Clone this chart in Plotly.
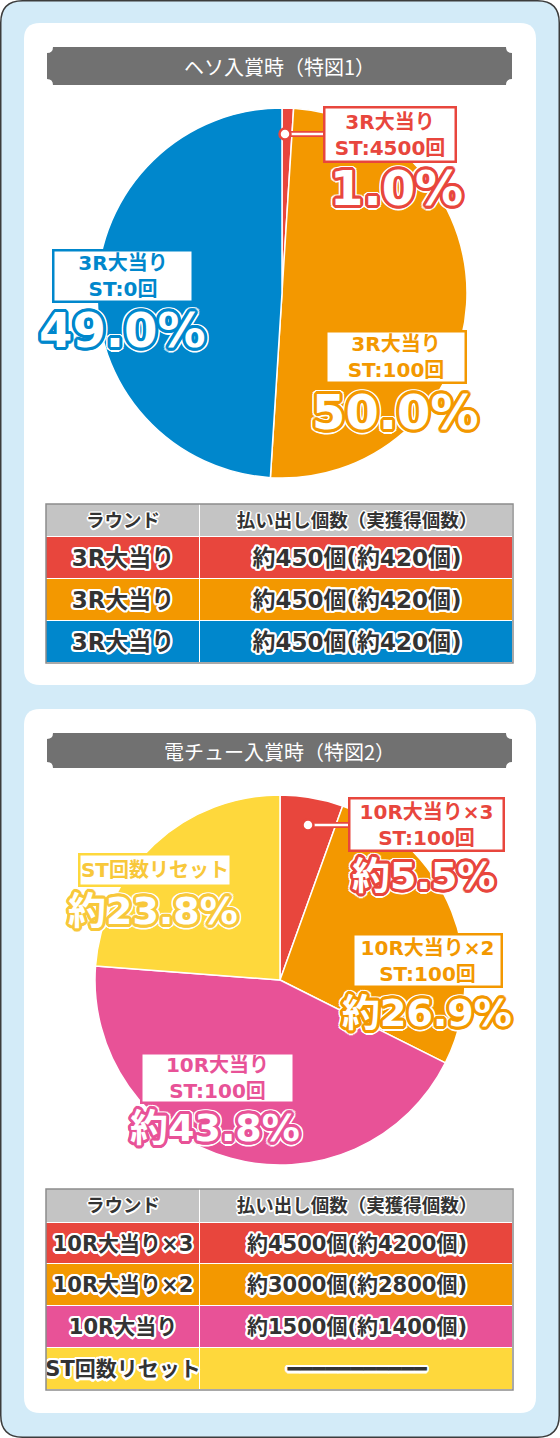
"""
Pie + table infographic (ヘソ / 電チュー) rebuilt with Plotly.
"""

import math

import plotly.graph_objects as go

# ---- data -------------------------------------------------------------
pie1_title = "ヘソ入賞時（特図1）"
pie1_rounds = ["3R大当り", "3R大当り", "3R大当り"]
pie1_st = ["ST:4500回", "ST:100回", "ST:0回"]
pie1_values = [1.0, 50.0, 49.0]

pie2_title = "電チュー入賞時（特図2）"
pie2_rounds = ["10R大当り×3", "10R大当り×2", "10R大当り", "ST回数リセット"]
pie2_st = ["ST:100回", "ST:100回", "ST:100回", ""]
pie2_values = [5.5, 26.9, 43.8, 23.8]

table_header = ["ラウンド", "払い出し個数（実獲得個数）"]
table1_rounds = ["3R大当り", "3R大当り", "3R大当り"]
table1_payout = ["約450個(約420個)", "約450個(約420個)", "約450個(約420個)"]
table2_rounds = ["10R大当り×3", "10R大当り×2", "10R大当り", "ST回数リセット"]
table2_payout = ["約4500個(約4200個)", "約3000個(約2800個)", "約1500個(約1400個)", "━━━━━━━━━━━"]

# ---- styles / layout --------------------------------------------------
W, H = 560, 1438
RED, ORANGE, BLUE, PINK, YELLOW = "#e8463d", "#f39800", "#0087cc", "#e85297", "#fed83c"
HEAD_GRAY = "#c4c4c4"
pie1_colors = [RED, ORANGE, BLUE]
pie2_colors = [RED, ORANGE, PINK, YELLOW]
pie2_text_colors = [RED, ORANGE, PINK, "#f8c83a"]
TXT = "#333333"
FONT_NUM = "DejaVu Sans, Noto Sans CJK JP"
FONT_JP = "Noto Sans CJK JP"

# label boxes (cx, cy, w, h) and percentage text centres, in pixels
pie1_box = [(390, 134.5, 134, 57), (396, 357, 142, 54), (123, 276, 142, 54)]
pie1_pct = [(396, 188), (395, 412), (122, 330)]
pie2_box = [(426.5, 824.5, 157, 55), (427.5, 960.5, 151, 55), (217.5, 1078, 155, 52), (155, 870, 154, 34)]
pie2_pct = [(423, 876), (427, 1013), (215, 1128), (153, 911)]

# table grid edges, in pixels
col_edges = [46, 200, 513]
table1_rows = [504, 537, 579, 621, 663]
table2_rows = [1189, 1223, 1264, 1306, 1348, 1390]


def fx(x):
    return x / W


def fy(y):
    return 1 - y / H


def make_path(cmds):
    out = []
    for c in cmds:
        op, pts = c[0], c[1:]
        coords = []
        for i in range(0, len(pts), 2):
            coords.append(f"{fx(pts[i]):.5f},{fy(pts[i + 1]):.5f}")
        out.append(op + " ".join(coords))
    return " ".join(out)


def rounded_rect(x0, y0, x1, y1, r):
    return make_path([
        ("M", x0 + r, y0), ("L", x1 - r, y0), ("Q", x1, y0, x1, y0 + r),
        ("L", x1, y1 - r), ("Q", x1, y1, x1 - r, y1), ("L", x0 + r, y1),
        ("Q", x0, y1, x0, y1 - r), ("L", x0, y0 + r), ("Q", x0, y0, x0 + r, y0), ("Z",),
    ])


def notched_rect(x0, y0, x1, y1, r):
    return make_path([
        ("M", x0 + r, y0), ("L", x1 - r, y0), ("Q", x1 - r, y0 + r, x1, y0 + r),
        ("L", x1, y1 - r), ("Q", x1 - r, y1 - r, x1 - r, y1), ("L", x0 + r, y1),
        ("Q", x0 + r, y1 - r, x0, y1 - r), ("L", x0, y0 + r), ("Q", x0 + r, y0 + r, x0 + r, y0), ("Z",),
    ])


def outline(color, radii, n=16):
    parts = []
    for r in radii:
        for k in range(n):
            a = 2 * math.pi * k / n
            parts.append(f"{r * math.cos(a):.1f}px {r * math.sin(a):.1f}px 0 {color}")
    return ", ".join(parts)


def step_scale(colors):
    n = len(colors)
    cs = []
    for i, c in enumerate(colors):
        cs += [[i / n, c], [(i + 1) / n, c]]
    return cs


fig = go.Figure()

# pies
for vals, cols, (x0, x1, y0, y1) in [
    (pie1_values, pie1_colors, (97, 467, 108, 478)),
    (pie2_values, pie2_colors, (95, 465, 795, 1165)),
]:
    fig.add_trace(go.Pie(
        values=vals,
        marker=dict(colors=cols, line=dict(color="white", width=1.5)),
        sort=False,
        direction="clockwise",
        rotation=0,
        textinfo="none",
        hoverinfo="skip",
        showlegend=False,
        domain=dict(x=[fx(x0), fx(x1)], y=[fy(y1), fy(y0)]),
    ))

# tables, drawn as heatmaps on a pixel-sized hidden axis so text sits centred
for rounds, payout, colors, rows, fsize in [
    (table1_rounds, table1_payout, [RED, ORANGE, BLUE], table1_rows, 23),
    (table2_rounds, table2_payout, [RED, ORANGE, PINK, YELLOW], table2_rows, 21),
]:
    fig.add_trace(go.Heatmap(
        x=col_edges, y=rows[:2], z=[[0, 0]],
        zmin=-0.5, zmax=0.5, colorscale=step_scale([HEAD_GRAY]), showscale=False,
        text=[table_header], texttemplate="<b>%{text}</b>",
        textfont=dict(family=FONT_JP, size=18.5, color=TXT, shadow=outline("white", [1.5], 12)),
        xgap=1, ygap=1, hoverinfo="skip",
    ))
    fig.add_trace(go.Heatmap(
        x=col_edges, y=rows[1:], z=[[i, i] for i in range(len(rounds))],
        zmin=-0.5, zmax=len(colors) - 0.5, colorscale=step_scale(colors), showscale=False,
        text=[[r, p] for r, p in zip(rounds, payout)], texttemplate="<b>%{text}</b>",
        textfont=dict(family=FONT_NUM, size=fsize, color=TXT, shadow=outline("white", [1.2, 2.2], 12)),
        xgap=1, ygap=1, hoverinfo="skip",
    ))

shapes = [
    dict(type="path", path=rounded_rect(0.75, 0.75, W - 0.75, H - 0.75, 22),
         fillcolor="#d3ebf8", line=dict(color="#3c3c3c", width=1.5), layer="below"),
    dict(type="path", path=rounded_rect(24, 23, 536, 685, 16),
         fillcolor="white", line=dict(width=0), layer="below"),
    dict(type="path", path=rounded_rect(24, 709, 536, 1413, 16),
         fillcolor="white", line=dict(width=0), layer="below"),
    dict(type="path", path=notched_rect(47, 47, 512, 85, 6),
         fillcolor="#717171", line=dict(width=0), layer="below"),
    dict(type="path", path=notched_rect(47, 733, 512, 768, 6),
         fillcolor="#717171", line=dict(width=0), layer="below"),
]
for rows in (table1_rows, table2_rows):
    shapes.append(dict(type="rect",
                       x0=fx(col_edges[0]), x1=fx(col_edges[-1]), y0=fy(rows[-1]), y1=fy(rows[0]),
                       line=dict(color="#8c8c8c", width=1.5), layer="above"))

# leader lines for the small red slices
for (dx, dy, bx) in [(285, 134, 323), (308, 825, 348)]:
    shapes.append(dict(type="line", x0=fx(dx), x1=fx(bx), y0=fy(dy), y1=fy(dy),
                       line=dict(color=RED, width=6), layer="above"))
    shapes.append(dict(type="line", x0=fx(dx), x1=fx(bx), y0=fy(dy), y1=fy(dy),
                       line=dict(color="white", width=2.5), layer="above"))
    shapes.append(dict(type="circle",
                       x0=fx(dx - 5.5), x1=fx(dx + 5.5), y0=fy(dy + 5.5), y1=fy(dy - 5.5),
                       fillcolor="white", line=dict(color=RED, width=2.5), layer="above"))

for s in shapes:
    s["xref"] = "paper"
    s["yref"] = "paper"

annotations = []
for title, cy in [(pie1_title, 66), (pie2_title, 751)]:
    annotations.append(dict(
        x=fx(279.5), y=fy(cy), xref="paper", yref="paper", text=title, showarrow=False,
        xanchor="center", yanchor="middle",
        font=dict(family=FONT_JP, size=20, color="white"),
    ))


def add_labels(rounds, sts, values, colors, text_colors, boxes, pcts, size, prefix):
    for rnd, st, v, col, tcol, (cx, cy, bw, bh), (px, py) in zip(
            rounds, sts, values, colors, text_colors, boxes, pcts):
        text = rnd if not st else f"{rnd}<br>{st}"
        annotations.append(dict(
            x=fx(cx), y=fy(cy), xref="paper", yref="paper", text=f"<b>{text}</b>",
            showarrow=False, xanchor="center", yanchor="middle",
            bgcolor="white", bordercolor=col, borderwidth=2.5, borderpad=0,
            width=bw - 5, height=bh - 5, align="center", valign="middle",
            font=dict(family=FONT_NUM, size=20, color=tcol),
        ))
        annotations.append(dict(
            x=fx(px), y=fy(py), xref="paper", yref="paper",
            text=f"<b>{prefix}{v:.1f}%</b>",
            showarrow=False, xanchor="center", yanchor="middle",
            font=dict(family=FONT_NUM, size=size, color="white",
                      shadow=outline(tcol, [1.5, 3]) + ", " + outline("white", [4.5])),
        ))


add_labels(pie1_rounds, pie1_st, pie1_values, pie1_colors, pie1_colors, pie1_box, pie1_pct, 48, "")
add_labels(pie2_rounds, pie2_st, pie2_values, pie2_colors, pie2_text_colors, pie2_box, pie2_pct, 38, "約")

fig.update_layout(
    width=W,
    height=H,
    margin=dict(l=0, r=0, t=0, b=0),
    paper_bgcolor="white",
    plot_bgcolor="rgba(0,0,0,0)",
    xaxis=dict(range=[0, W], visible=False, fixedrange=True),
    yaxis=dict(range=[H, 0], visible=False, fixedrange=True),
    shapes=shapes,
    annotations=annotations,
)

fig.write_html(
    "out.html",
    config={"displayModeBar": False},
    post_script="document.body.style.margin='0';document.body.style.overflow='hidden';",
)
